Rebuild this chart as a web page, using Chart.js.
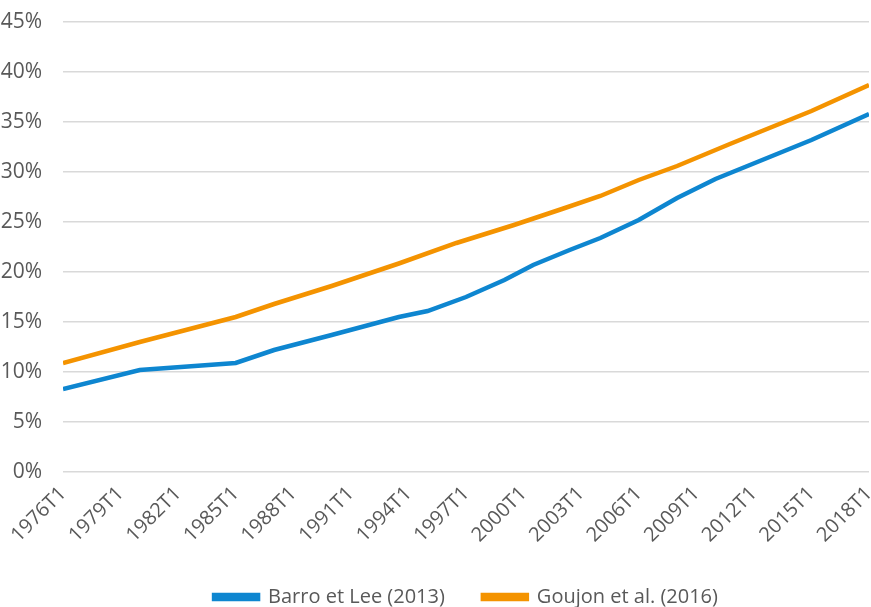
<!DOCTYPE html>
<html>
<head>
<meta charset="utf-8">
<script src="https://cdn.jsdelivr.net/npm/chart.js@4/dist/chart.umd.min.js"></script>
<style>
  html, body { margin: 0; padding: 0; background: #fff; }
  #wrap { width: 871px; height: 607px; }
</style>
</head>
<body>
<div id="wrap"><canvas id="graph"></canvas></div>
<script>
// years, values in %
const yearsBarro = [1976, 1980, 1985, 1987, 1990, 1993.5, 1995, 1997, 1999, 2000.5, 2002.4, 2004, 2006, 2008, 2010, 2015, 2018];
const barroLee   = [8.3, 10.2, 10.9, 12.2, 13.7, 15.5, 16.1, 17.5, 19.2, 20.7, 22.2, 23.4, 25.2, 27.4, 29.3, 33.2, 35.8];

const yearsGoujon = [1976, 1980, 1985, 1987, 1990, 1993.5, 1996.5, 1999.5, 2002, 2004, 2006, 2008, 2010.75, 2015, 2018];
const goujon      = [10.9, 13.0, 15.5, 16.8, 18.6, 20.85, 22.9, 24.7, 26.3, 27.6, 29.2, 30.6, 32.8, 36.1, 38.7];

const tickYears = [1976, 1979, 1982, 1985, 1988, 1991, 1994, 1997, 2000, 2003, 2006, 2009, 2012, 2015, 2018];

const textColor = '#595959';
const police = '"Open Sans", sans-serif';

function points(xs, ys) {
    return xs.map((x, i) => ({ x: x, y: ys[i] }));
}

const config = {
    type: 'line',
    data: {
        datasets: [{
            label: 'Barro et Lee (2013)',
            data: points(yearsBarro, barroLee),
            borderColor: '#0E86D0',
            backgroundColor: '#0E86D0',
            borderWidth: 4.5,
            pointRadius: 0,
            tension: 0
        }, {
            label: 'Goujon et al. (2016)',
            data: points(yearsGoujon, goujon),
            borderColor: '#F49300',
            backgroundColor: '#F49300',
            borderWidth: 4.5,
            pointRadius: 0,
            tension: 0
        }]
    },
    options: {
        responsive: true,
        maintainAspectRatio: false,
        animation: false,
        layout: { padding: { top: 22, right: 2, left: 0, bottom: -10 } },
        scales: {
            x: {
                type: 'linear',
                min: 1976,
                max: 2018,
                afterBuildTicks: (axis) => { axis.ticks = tickYears.map(v => ({ value: v })); },
                afterFit: (axis) => { axis.paddingLeft = 0; axis.paddingRight = 0; axis.height = 77; },
                grid: { display: false },
                border: { display: false },
                ticks: {
                    minRotation: 45,
                    maxRotation: 45,
                    autoSkip: false,
                    padding: 2,
                    color: textColor,
                    font: { family: police, size: 20 },
                    callback: (v) => v + 'T1'
                }
            },
            y: {
                min: 0,
                max: 45,
                afterFit: (axis) => { axis.width = 63; axis.paddingTop = 0; axis.paddingBottom = 0; },
                grid: { color: '#d9d9d9', lineWidth: 1.5, drawTicks: false },
                border: { display: false },
                ticks: {
                    stepSize: 5,
                    padding: 21,
                    color: textColor,
                    font: { family: police, size: 21 },
                    callback: (v) => v + '%'
                }
            }
        },
        plugins: {
            legend: {
                position: 'bottom',
                fullSize: false,
                labels: {
                    boxWidth: 44,
                    boxHeight: 4,
                    padding: 38,
                    color: textColor,
                    font: { family: police, size: 20 }
                }
            },
            tooltip: { enabled: false }
        }
    }
};

const ctx = document.getElementById('graph').getContext('2d');
new Chart(ctx, config);
</script>
</body>
</html>
